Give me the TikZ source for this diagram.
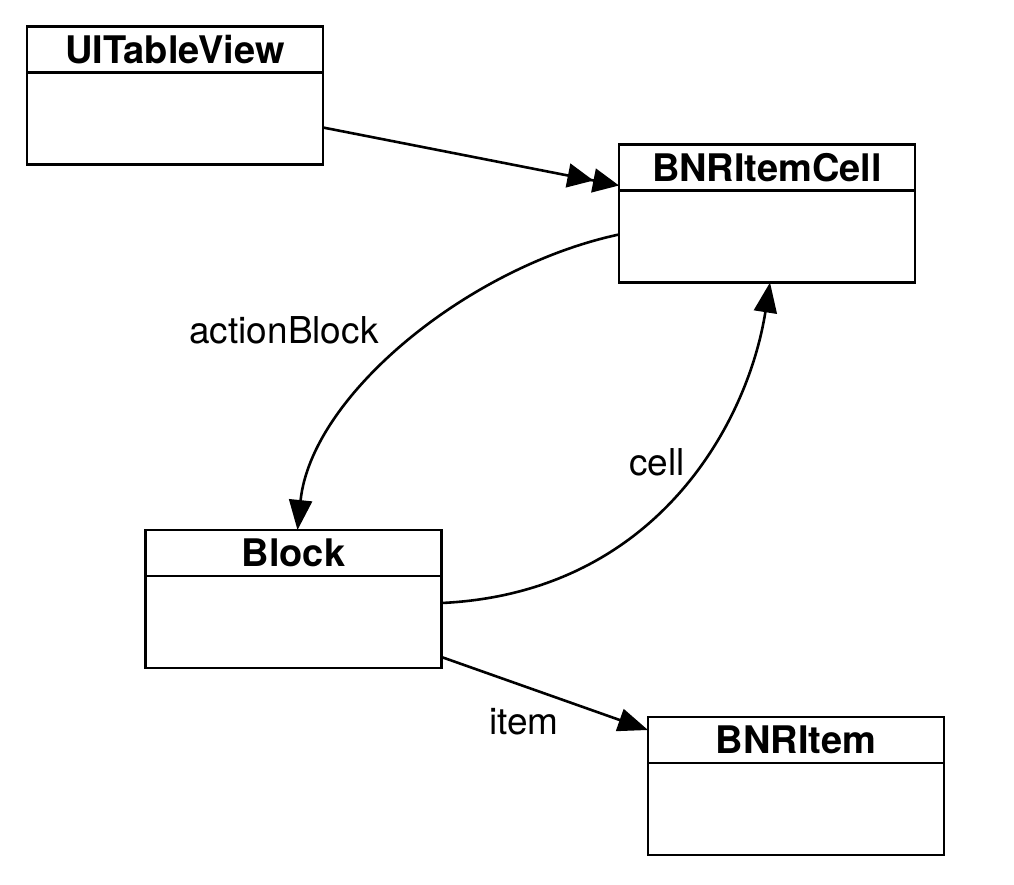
\documentclass[tikz,border=0pt]{standalone}
\usepackage{fontspec}
\setmainfont{TeX Gyre Heros}
\usetikzlibrary{arrows.meta}
\begin{document}
\begin{tikzpicture}[x=1pt,y=-1pt,
  ln/.style={line width=2.6pt},
  ttl/.style={draw, ln, minimum width=296pt, minimum height=46pt, inner sep=0pt, outer sep=0pt,
    font=\fontsize{38}{44}\selectfont\bfseries},
  bdy/.style={draw, ln, minimum width=296pt, minimum height=92pt, inner sep=0pt, outer sep=0pt, anchor=north},
  lbl/.style={font=\fontsize{37}{44}\selectfont, inner sep=0pt},
  conn/.style={ln, -{Triangle[length=30pt,width=23pt]}},
  dconn/.style={ln, -{Triangle[length=26pt,width=24pt] Triangle[length=26pt,width=24pt]}}]
\useasboundingbox[fill=white] (0,0) rectangle (1014,884);
% boxes
\node[ttl] (tvt) at (175,49.5) {UITableView};
\node[bdy] (tvb) at (tvt.south) {};
\node[ttl] (cellt) at (767,167.5) {BNRItemCell};
\node[bdy] (cellb) at (cellt.south) {};
\node[ttl] (blockt) at (293.5,553) {Block};
\node[bdy] (blockb) at (blockt.south) {};
\node[ttl] (itemt) at (796,740) {BNRItem};
\node[bdy] (itemb) at (itemt.south) {};
% connectors
\draw[dconn] ([yshift=-9pt]tvb.east) -- ([yshift=5pt]cellt.south west);
\draw[conn] ([yshift=2pt]cellb.west) .. controls +(-150,32) and +(14,-135) .. ([xshift=4pt]blockt.north);
\draw[conn] ([yshift=19pt]blockb.east) .. controls +(215,-10) and +(-22,140) .. ([xshift=3pt]cellb.south);
\draw[conn] ([yshift=-35pt]blockb.east) -- ([yshift=10pt]itemt.west);
% labels
\node[lbl] (lab1) at (284,330) {actionBlock};
\node[lbl] (lab2) at (657,462) {cell};
\node[lbl] (lab3) at (524,722) {item};
\end{tikzpicture}
\end{document}
